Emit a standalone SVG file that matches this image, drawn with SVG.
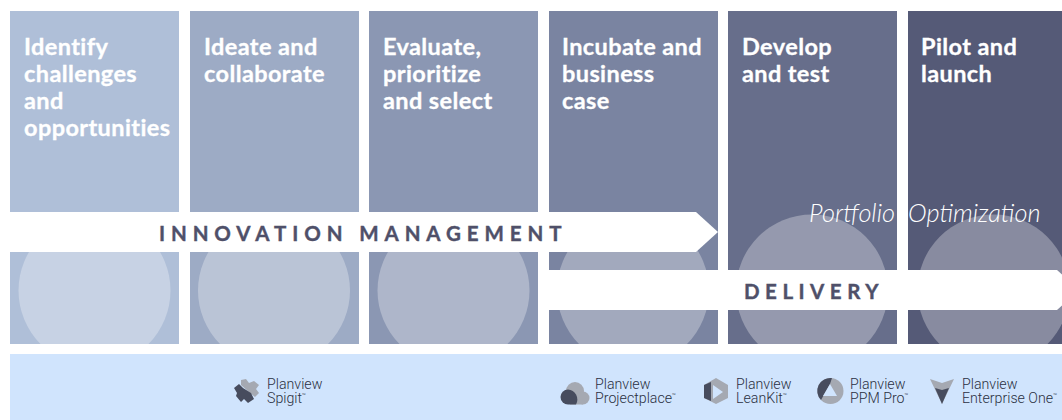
<svg xmlns="http://www.w3.org/2000/svg" width="1062" height="420" viewBox="0 0 1062 420">
<defs>
<style>
.head{font-family:"Lato","Liberation Sans",sans-serif;font-weight:700;font-size:23.5px;letter-spacing:.4px;fill:#fff;stroke:#fff;stroke-width:.3px}
.band{font-family:"Lato","Liberation Sans",sans-serif;font-weight:700;font-size:20.5px;fill:#4f5069;stroke:#4f5069;stroke-width:.4px}
.ital{font-family:"Lato","Liberation Sans",sans-serif;font-weight:300;font-style:italic;font-size:25.300px;fill:#fff}
.prod{font-family:"Roboto","Liberation Sans",sans-serif;font-weight:300;font-size:14.200px;fill:#2b3042}
.tm{font-size:6.500px}
.circ{fill:#fff;fill-opacity:.3}
.ic1{fill:#a5a9b2}
.ic2{fill:#474c5e}
.ic3{fill:#d0e4fd}
</style>
<clipPath id="clip"><rect x="0" y="0" width="1062" height="344"/></clipPath>
</defs>
<rect width="1062" height="420" fill="#fff"/>
<g id="col1"><rect x="10" y="11" width="169" height="333" fill="#afbfd8"/><circle class="circ" cx="94.500" cy="290.500" r="76" clip-path="url(#clip)"/>
<text class="head"><tspan x="24" y="55">Identify</tspan><tspan x="24" y="82">challenges</tspan><tspan x="24" y="109">and</tspan><tspan x="24" y="136">opportunities</tspan></text></g>
<g id="col2"><rect x="190" y="11" width="169" height="333" fill="#9dabc5"/><circle class="circ" cx="274" cy="290.500" r="76" clip-path="url(#clip)"/>
<text class="head"><tspan x="204" y="55">Ideate and</tspan><tspan x="204" y="82">collaborate</tspan></text></g>
<g id="col3"><rect x="369" y="11" width="169" height="333" fill="#8b97b3"/><circle class="circ" cx="453.500" cy="290.500" r="76" clip-path="url(#clip)"/>
<text class="head"><tspan x="383" y="55">Evaluate,</tspan><tspan x="383" y="82">prioritize</tspan><tspan x="383" y="109">and select</tspan></text></g>
<g id="col4"><rect x="549" y="11" width="169" height="333" fill="#7a84a1"/><circle class="circ" cx="633" cy="290.500" r="76" clip-path="url(#clip)"/>
<text class="head"><tspan x="562" y="55">Incubate and</tspan><tspan x="562" y="82">business</tspan><tspan x="562" y="109">case</tspan></text></g>
<g id="col5"><rect x="728" y="11" width="169" height="333" fill="#676e8b"/><circle class="circ" cx="812" cy="290.500" r="76" clip-path="url(#clip)"/>
<text class="head"><tspan x="742" y="55">Develop</tspan><tspan x="742" y="82">and test</tspan></text></g>
<g id="col6"><rect x="908" y="11" width="154" height="333" fill="#555a77"/><circle class="circ" cx="993.500" cy="290.500" r="76" clip-path="url(#clip)"/>
<text class="head"><tspan x="921" y="55">Pilot and</tspan><tspan x="921" y="82">launch</tspan></text></g>
<text id="portfolio-label" class="ital" x="809" y="222">Portfolio</text>
<text id="optimization-label" class="ital" x="908" y="222">Optimization</text>
<g id="connectors">
<path id="innovation-arrow" d="M10 212H696L718 232L696 252H10Z" fill="#fff"/>
<path id="delivery-arrow" d="M549 270H1057L1079 290L1057 310H549Z" fill="#fff"/>
</g>
<text id="innovation-label" class="band" x="159" y="241" letter-spacing="5.900">INNOVATION MANAGEMENT</text>
<text id="delivery-label" class="band" x="744" y="299" letter-spacing="5.500">DELIVERY</text>
<rect id="tools-band" x="10" y="354" width="1052" height="66" fill="#d0e4fd"/>
<g id="spigit">
<path class="ic1" d="M241 380L246 379L249 383L254 381L259 385L256 389L259 393L255 397L250 393L241 385Z"/>
<path class="ic2" d="M234 388L239 384L243 388L251 393L254 399L248 403L244 399L241 402L236 396L237 393Z"/>
<text class="prod"><tspan x="267" y="389">Planview</tspan><tspan x="267" y="403">Spigit<tspan class="tm" dy="-5">™</tspan></tspan></text></g>
<g id="projectplace">
<circle class="ic1" cx="575" cy="391" r="9"/><circle class="ic1" cx="583" cy="398" r="6.500"/><rect class="ic1" x="570" y="396" width="13" height="8.500"/>
<path class="ic2" d="M568 389.500A7.500 7.500 0 0 0 568 404.500H576A10 10 0 0 0 568 389.500Z"/>
<text class="prod"><tspan x="595" y="389">Planview</tspan><tspan x="595" y="403">Projectplace<tspan class="tm" dy="-5">™</tspan></tspan></text></g>
<g id="leankit">
<path class="ic1" d="M716 378L728 385V398L716 404L704 398V385Z"/><path class="ic2" d="M704 385L711 382V401L704 398Z"/><path class="ic3" d="M713 385L723 392L713 399Z"/>
<text class="prod"><tspan x="736" y="389">Planview</tspan><tspan x="736" y="403">LeanKit<tspan class="tm" dy="-5">™</tspan></tspan></text></g>
<g id="ppmpro">
<circle class="ic1" cx="830.500" cy="391" r="13"/>
<path class="ic2" d="M832 378A13 13 0 0 0 821 400L830 384Z"/><path class="ic3" d="M830 384L837 396H823Z"/>
<text class="prod"><tspan x="850" y="389">Planview</tspan><tspan x="850" y="403">PPM Pro<tspan class="tm" dy="-5">™</tspan></tspan></text></g>
<g id="enterpriseone">
<path class="ic1" d="M930 379L942 383L954 379L942 404Z"/><path class="ic2" d="M935 388L942 390L949 388L942 404Z"/>
<text class="prod"><tspan x="962" y="389">Planview</tspan><tspan x="962" y="403">Enterprise One<tspan class="tm" dy="-5">™</tspan></tspan></text></g>
</svg>
